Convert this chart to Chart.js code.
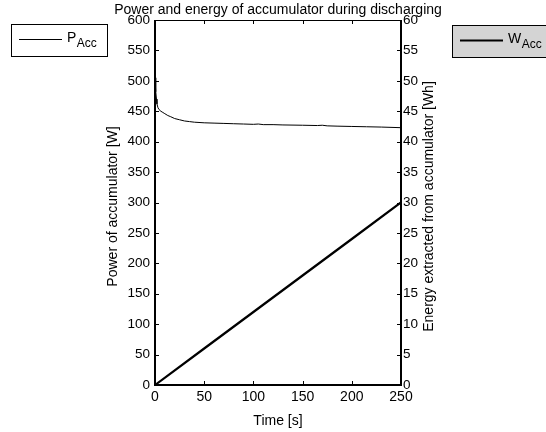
<!DOCTYPE html>
<html>
<head>
<meta charset="utf-8">
<script src="https://cdn.jsdelivr.net/npm/chart.js@4.4.0/dist/chart.umd.min.js"></script>
<style>
  html, body { margin: 0; padding: 0; background: #fff; }
  #chart { display: block; }
</style>
</head>
<body>
<canvas id="chart" width="546" height="432"></canvas>
<script>
// time axis for the power trace [s]
const timeS = [0, 0.5, 1, 1.5, 2, 3, 4, 6, 8, 10, 13, 16, 20, 25, 30, 35, 40, 50, 60, 70, 80, 90, 100, 105, 110, 120, 130, 150, 165, 170, 175, 185, 200, 215, 230, 250];
// power of accumulator [W]
const powerW = [505, 495, 482, 470, 462, 456, 453, 450, 448, 446, 443, 441, 438, 436, 434, 433, 432, 431, 430.5, 430, 429.5, 429, 428.5, 429, 428, 428, 427.5, 427, 426.5, 427, 426, 425.5, 425, 424.5, 424, 423];
// energy extracted [Wh]
const energyTimeS = [0, 50, 100, 150, 200, 250];
const energyWh = [0, 6, 12, 18, 24, 30];

const xTicks = [0, 50, 100, 150, 200, 250];
const leftTicks = [0, 50, 100, 150, 200, 250, 300, 350, 400, 450, 500, 550, 600];
const rightTicks = [0, 5, 10, 15, 20, 25, 30, 35, 40, 45, 50, 55, 60];

const FONT = 'Liberation Sans, Arial, sans-serif';

const framePlugin = {
    id: 'frame',
    afterDraw(chart) {
        const ctx = chart.ctx;
        const a = chart.chartArea;
        const x = chart.scales.x, y = chart.scales.y, y1 = chart.scales.y1;
        ctx.save();
        ctx.strokeStyle = '#000';

        // inward ticks
        ctx.lineWidth = 1;
        ctx.beginPath();
        xTicks.forEach(v => {
            const px = Math.round(x.getPixelForValue(v)) + 0.5;
            ctx.moveTo(px, a.bottom); ctx.lineTo(px, a.bottom - 4);
            ctx.moveTo(px, a.top); ctx.lineTo(px, a.top + 4);
        });
        leftTicks.forEach(v => {
            const py = Math.round(y.getPixelForValue(v)) + 0.5;
            ctx.moveTo(a.left, py); ctx.lineTo(a.left + 4, py);
        });
        rightTicks.forEach(v => {
            const py = Math.round(y1.getPixelForValue(v)) + 0.5;
            ctx.moveTo(a.right, py); ctx.lineTo(a.right - 4, py);
        });
        ctx.stroke();

        // box
        ctx.lineWidth = 1;
        ctx.beginPath();
        ctx.moveTo(a.left, a.top + 0.5); ctx.lineTo(a.right, a.top + 0.5);
        ctx.stroke();
        ctx.lineWidth = 2;
        ctx.beginPath();
        ctx.moveTo(a.left, a.top); ctx.lineTo(a.left, a.bottom);
        ctx.lineTo(a.right, a.bottom); ctx.lineTo(a.right, a.top);
        ctx.stroke();

        // title
        ctx.fillStyle = '#000';
        ctx.font = '14px ' + FONT;
        ctx.textAlign = 'center';
        ctx.textBaseline = 'middle';
        ctx.fillText('Power and energy of accumulator during discharging', (a.left + a.right) / 2, 10);

        // x title
        ctx.fillText('Time [s]', (a.left + a.right) / 2, 421);

        // y titles
        const midY = (a.top + a.bottom) / 2;
        ctx.save();
        ctx.translate(113, midY + 4);
        ctx.rotate(-Math.PI / 2);
        ctx.fillText('Power of accumulator [W]', 0, 0);
        ctx.restore();
        ctx.save();
        ctx.translate(429, midY + 4);
        ctx.rotate(-Math.PI / 2);
        ctx.fillText('Energy extracted from accumulator [Wh]', 0, 0);
        ctx.restore();

        // legends
        const drawLegend = (bx, by, bw, bh, fill, lw, main, sub) => {
            ctx.fillStyle = fill;
            ctx.fillRect(bx, by, bw, bh);
            ctx.lineWidth = 1;
            ctx.strokeStyle = '#000';
            ctx.strokeRect(bx + 0.5, by + 0.5, bw, bh);
            ctx.lineWidth = lw;
            ctx.beginPath();
            ctx.moveTo(bx + 8, by + 15.5); ctx.lineTo(bx + 51, by + 15.5);
            ctx.stroke();
            ctx.fillStyle = '#000';
            ctx.textAlign = 'left';
            ctx.textBaseline = 'middle';
            ctx.font = '14px ' + FONT;
            ctx.fillText(main, bx + 56, by + 14);
            const w = ctx.measureText(main).width;
            ctx.font = '12px ' + FONT;
            ctx.fillText(sub, bx + 56 + w + 0.5, by + 20);
        };
        drawLegend(11, 24, 96, 32, '#fff', 1, 'P', 'Acc');
        drawLegend(452, 25, 100, 32, '#d4d4d4', 2, 'W', 'Acc');

        ctx.restore();
    }
};

new Chart(document.getElementById('chart'), {
    type: 'line',
    data: {
        datasets: [{
            label: 'P_Acc',
            data: timeS.map((t, i) => ({ x: t, y: powerW[i] })),
            borderColor: '#000',
            borderWidth: 1,
            pointRadius: 0,
            yAxisID: 'y'
        }, {
            label: 'W_Acc',
            data: energyTimeS.map((t, i) => ({ x: t, y: energyWh[i] })),
            borderColor: '#000',
            borderWidth: 2.2,
            pointRadius: 0,
            yAxisID: 'y1'
        }]
    },
    options: {
        responsive: false,
        animation: false,
        devicePixelRatio: 1,
        layout: { padding: { top: 20, left: 0, right: 0, bottom: 0 } },
        plugins: {
            legend: { display: false },
            tooltip: { enabled: false },
            title: { display: false }
        },
        scales: {
            x: {
                type: 'linear',
                min: 0,
                max: 250,
                grid: { display: false, drawTicks: false },
                border: { display: false },
                ticks: { stepSize: 50, color: '#000', font: { family: FONT, size: 14 }, padding: 4, maxRotation: 0 },
                afterFit(s) { s.height = 47; }
            },
            y: {
                position: 'left',
                min: 0,
                max: 600,
                grid: { display: false, drawTicks: false },
                border: { display: false },
                ticks: { stepSize: 50, color: '#000', font: { family: FONT, size: 13.5 }, padding: 5 },
                afterFit(s) { s.width = 155; }
            },
            y1: {
                position: 'right',
                min: 0,
                max: 60,
                grid: { display: false, drawTicks: false },
                border: { display: false },
                ticks: { stepSize: 5, color: '#000', font: { family: FONT, size: 13.5 }, padding: 2 },
                afterFit(s) { s.width = 145; }
            }
        }
    },
    plugins: [framePlugin]
});
</script>
</body>
</html>
